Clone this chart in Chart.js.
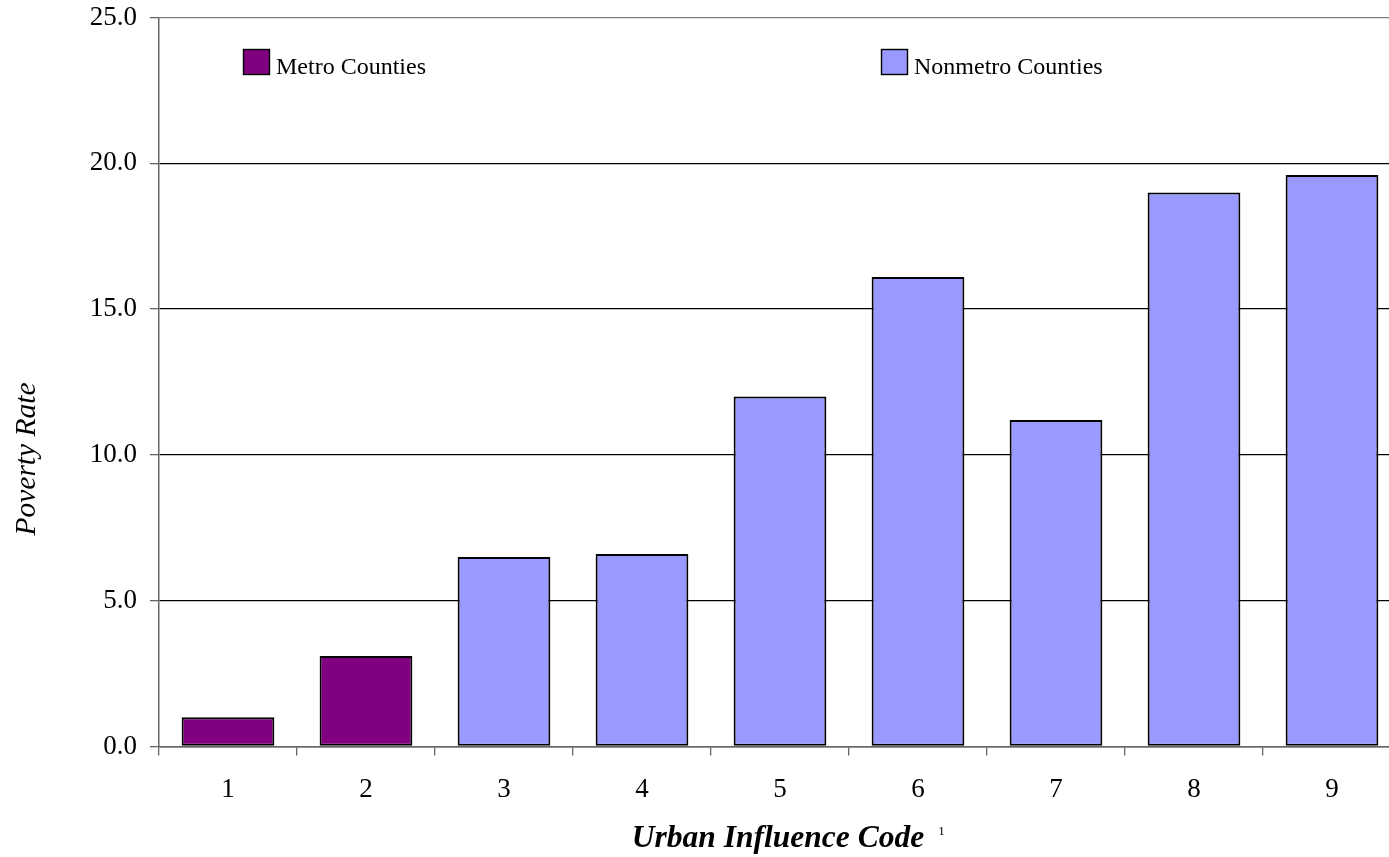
<!DOCTYPE html>
<html>
<head>
<meta charset="utf-8">
<script src="https://cdn.jsdelivr.net/npm/chart.js@4/dist/chart.umd.min.js"></script>
<style>
  html, body { margin: 0; padding: 0; background: #fff; overflow: hidden; }
  #wrap { position: relative; width: 1401px; height: 857px; }
</style>
</head>
<body>
<div id="wrap"><canvas id="c"></canvas></div>
<script>
// ---- data ----
const categories = ['1', '2', '3', '4', '5', '6', '7', '8', '9'];
const metroValues    = [1.0, 3.1, null, null, null, null, null, null, null];
const nonmetroValues = [null, null, 6.5, 6.6, 12.0, 16.1, 11.2, 19.0, 19.6];
const seriesNames = ['Metro Counties', 'Nonmetro Counties'];
const yTicks = [0, 5, 10, 15, 20, 25];
const xTitle = 'Urban Influence Code';
const xTitleNote = '1';
const yTitle = 'Poverty Rate';

const SERIF = '"Liberation Serif", "Times New Roman", Times, serif';

const legendPlugin = {
  id: 'insideLegend',
  afterDraw(chart, args, opts) {
    const ctx = chart.ctx;
    const a = chart.chartArea;
    ctx.save();
    chart.data.datasets.forEach((ds, i) => {
      const x = a.left + opts.offsets[i];
      const y = opts.boxTop;
      ctx.fillStyle = ds.backgroundColor;
      ctx.fillRect(x, y, 27, 26);
      ctx.strokeStyle = '#000';
      ctx.lineWidth = 1.4;
      ctx.strokeRect(x + 0.5, y + 0.5, 26, 25);
      ctx.fillStyle = '#000';
      ctx.font = '24px ' + SERIF;
      ctx.textAlign = 'left';
      ctx.textBaseline = 'alphabetic';
      ctx.fillText(ds.label, x + 33, opts.baseline);
    });
    ctx.restore();
  }
};

const titlesPlugin = {
  id: 'axisTitles',
  afterDraw(chart) {
    const ctx = chart.ctx;
    ctx.save();
    ctx.fillStyle = '#000';
    // x title
    ctx.font = 'italic bold 31.5px ' + SERIF;
    ctx.textBaseline = 'alphabetic';
    ctx.textAlign = 'left';
    const w = ctx.measureText(xTitle).width;
    const cx = 778;
    const x0 = cx - w / 2;
    ctx.fillText(xTitle, x0, 847);
    ctx.font = '13px ' + SERIF;
    ctx.fillText(xTitleNote, x0 + w + 14, 835);
    // y title
    ctx.translate(27, 459);
    ctx.rotate(-Math.PI / 2);
    ctx.font = 'italic 29.5px ' + SERIF;
    ctx.textAlign = 'center';
    ctx.textBaseline = 'middle';
    ctx.fillText(yTitle, 0, 0);
    ctx.restore();
  }
};

new Chart(document.getElementById('c'), {
  type: 'bar',
  data: {
    labels: categories,
    datasets: [
      { label: seriesNames[0], data: metroValues, backgroundColor: '#800080',
        borderColor: '#000', borderWidth: 2, borderSkipped: false },
      { label: seriesNames[1], data: nonmetroValues, backgroundColor: '#9999FF',
        borderColor: '#000', borderWidth: 2, borderSkipped: false }
    ]
  },
  options: {
    responsive: true,
    maintainAspectRatio: false,
    animation: false,
    layout: { padding: { top: 17.5, left: 0, right: 0, bottom: 0 } },
    datasets: { bar: { categoryPercentage: 1.0, barPercentage: 0.672 } },
    plugins: {
      legend: { display: false },
      tooltip: { enabled: false },
      insideLegend: { offsets: [84, 722], boxTop: 49, baseline: 74 }
    },
    scales: {
      x: {
        stacked: true,
        offset: true,
        grid: { offset: true, drawOnChartArea: false, drawTicks: true, tickLength: 9,
                color: '#666', tickColor: '#666', lineWidth: 1.3 },
        border: { color: '#666', width: 1.5 },
        ticks: { color: '#000', font: { family: SERIF, size: 27 }, padding: 18, maxRotation: 0 },
        afterFit(scale) { scale.height = 110.5; scale.paddingLeft = 0; scale.paddingRight = 0; }
      },
      y: {
        stacked: true,
        min: 0, max: 25,
        afterBuildTicks(scale) { scale.ticks = yTicks.map(v => ({ value: v })); },
        grid: {
          color: (c) => (c.tick && c.tick.value === 25) ? '#808080' : '#000',
          tickColor: '#666', tickLength: 9, lineWidth: 1.3
        },
        border: { color: '#666', width: 1.5 },
        ticks: { color: '#000', font: { family: SERIF, size: 27 }, padding: 13,
                 callback: (v) => Number(v).toFixed(1) },
        afterFit(scale) { scale.width = 159; scale.paddingTop = 0; scale.paddingBottom = 0; }
      }
    }
  },
  plugins: [legendPlugin, titlesPlugin]
});
</script>
</body>
</html>
